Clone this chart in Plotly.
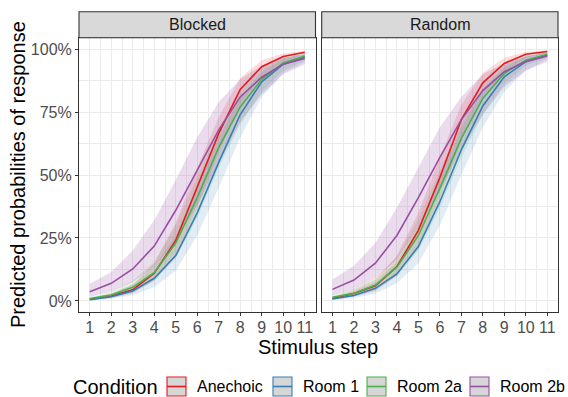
import plotly.graph_objects as go

W, H = 568, 397

steps = list(range(1, 12))
conditions = ["Anechoic", "Room 1", "Room 2a", "Room 2b"]
colors = ["#E41A1C", "#377EB8", "#4DAF4A", "#984EA3"]
fills = ["rgba(228,26,28,0.15)", "rgba(55,126,184,0.15)", "rgba(77,175,74,0.15)", "rgba(152,78,163,0.2)"]
panels = ["Blocked", "Random"]

# Blocked panel: fit, lower, upper (percent)
blocked_fit = {
    "Anechoic": [0.7, 2.0, 4.4, 11.0, 24.0, 45.0, 66.5, 84.0, 93.0, 97.0, 98.7],
    "Room 1":   [0.5, 1.7, 4.0, 9.0, 18.0, 35.0, 55.0, 74.0, 87.0, 94.0, 96.7],
    "Room 2a":  [1.0, 2.4, 5.4, 11.2, 23.0, 41.0, 61.0, 77.0, 88.0, 94.5, 97.2],
    "Room 2b":  [3.7, 7.0, 12.7, 21.8, 36.0, 51.7, 67.9, 81.0, 88.8, 94.0, 96.3],
}
blocked_lo = {
    "Anechoic": [0.4, 1.2, 3.0, 8.0, 18.0, 37.0, 59.0, 78.0, 89.0, 95.0, 97.8],
    "Room 1":   [0.2, 0.9, 2.3, 5.5, 12.0, 26.0, 45.0, 65.0, 81.0, 90.5, 94.8],
    "Room 2a":  [0.5, 1.4, 3.5, 8.0, 17.0, 33.0, 53.0, 70.0, 83.0, 91.5, 95.5],
    "Room 2b":  [1.8, 3.8, 7.5, 13.5, 24.0, 38.0, 55.0, 71.0, 82.0, 90.0, 94.0],
}
blocked_hi = {
    "Anechoic": [1.2, 3.0, 6.5, 15.0, 31.0, 53.0, 73.0, 88.5, 95.5, 98.2, 99.3],
    "Room 1":   [1.0, 3.0, 6.5, 13.5, 26.0, 45.0, 65.0, 81.0, 91.0, 96.2, 98.0],
    "Room 2a":  [1.7, 3.8, 8.0, 15.5, 30.0, 49.0, 68.0, 83.0, 92.0, 96.5, 98.3],
    "Room 2b":  [6.8, 11.5, 20.0, 32.0, 48.0, 65.0, 79.0, 88.0, 93.5, 96.5, 98.0],
}

# Random panel
random_fit = {
    "Anechoic": [1.0, 3.0, 6.0, 13.6, 28.0, 49.0, 72.0, 86.6, 94.3, 97.9, 99.0],
    "Room 1":   [0.8, 2.2, 5.0, 10.7, 21.6, 39.4, 60.0, 77.4, 89.0, 95.0, 97.6],
    "Room 2a":  [1.5, 3.0, 6.3, 13.4, 26.0, 44.7, 64.5, 80.4, 90.3, 95.6, 97.9],
    "Room 2b":  [4.6, 8.3, 15.0, 26.0, 41.0, 57.0, 72.0, 83.5, 91.0, 95.0, 97.2],
}
random_lo = {
    "Anechoic": [0.5, 1.8, 4.0, 10.0, 22.0, 41.0, 64.0, 81.0, 91.0, 96.3, 98.3],
    "Room 1":   [0.4, 1.2, 3.0, 7.0, 15.0, 30.0, 50.0, 69.0, 83.0, 91.5, 95.8],
    "Room 2a":  [0.8, 1.9, 4.3, 9.8, 20.0, 37.0, 57.0, 74.0, 86.0, 93.5, 96.5],
    "Room 2b":  [2.3, 4.5, 9.0, 16.5, 29.0, 44.0, 60.0, 74.0, 85.0, 91.5, 95.0],
}
random_hi = {
    "Anechoic": [1.6, 4.5, 8.5, 18.0, 35.0, 57.0, 78.0, 90.5, 96.5, 98.8, 99.5],
    "Room 1":   [1.5, 3.8, 7.5, 15.5, 29.0, 49.0, 69.0, 84.0, 93.0, 97.0, 98.7],
    "Room 2a":  [2.4, 4.5, 9.0, 17.5, 32.5, 52.0, 71.0, 85.5, 93.5, 97.2, 98.8],
    "Room 2b":  [8.5, 14.0, 23.0, 37.0, 53.0, 69.0, 81.0, 90.0, 94.5, 97.0, 98.5],
}

y_ticks = [0, 25, 50, 75, 100]
y_ticktext = ["0%", "25%", "50%", "75%", "100%"]

FONT = "Liberation Sans, Arial, sans-serif"

def px_x(p):
    return p / W

def px_y(p):
    return (H - p) / H

panel_x = [(79, 315.5), (321.7, 558)]
panel_top, panel_bot = 37.7, 312.3
strip_top = 11.7

fig = go.Figure()

data = [(blocked_fit, blocked_lo, blocked_hi), (random_fit, random_lo, random_hi)]
for pi, (fit, lo, hi) in enumerate(data):
    xa = "x" if pi == 0 else "x2"
    ya = "y" if pi == 0 else "y2"
    for ci, c in enumerate(conditions):
        fig.add_trace(go.Scatter(
            x=steps + steps[::-1], y=hi[c] + lo[c][::-1],
            fill="toself", fillcolor=fills[ci], line=dict(width=0),
            mode="lines", hoverinfo="skip", showlegend=False,
            xaxis=xa, yaxis=ya))
    for ci, c in enumerate(conditions):
        fig.add_trace(go.Scatter(
            x=steps, y=fit[c], mode="lines", name=c,
            line=dict(color=colors[ci], width=1.6),
            showlegend=False, xaxis=xa, yaxis=ya))

axis_common = dict(
    showline=True, linecolor="#333333", linewidth=1.1, mirror=True,
    showgrid=True, gridcolor="#EBEBEB", gridwidth=1.1,
    zeroline=False, ticks="outside", ticklen=3, tickcolor="#333333", tickwidth=1,
    tickfont=dict(family=FONT, size=16, color="#4D4D4D"),
)

for i, (x0, x1) in enumerate(panel_x):
    xkey = "xaxis" if i == 0 else "xaxis2"
    ykey = "yaxis" if i == 0 else "yaxis2"
    fig.layout[xkey] = dict(
        axis_common, domain=[px_x(x0), px_x(x1)], range=[0.5, 11.5],
        tickvals=steps, ticktext=[str(s) for s in steps],
        ticklabelstandoff=-3,
        minor=dict(tick0=0.5, dtick=1, showgrid=True, gridcolor="#EBEBEB", gridwidth=0.6),
        anchor="y" if i == 0 else "y2",
    )
    fig.layout[ykey] = dict(
        axis_common, domain=[px_y(panel_bot), px_y(panel_top)], range=[-4.5, 104.5],
        tickvals=y_ticks, ticktext=y_ticktext,
        showticklabels=(i == 0),
        minor=dict(tick0=12.5, dtick=25, showgrid=True, gridcolor="#EBEBEB", gridwidth=0.6),
        anchor="x" if i == 0 else "x2",
    )
    if i == 1:
        fig.layout[ykey].ticks = ""
    # strip
    fig.add_shape(type="rect", xref="paper", yref="paper",
                  x0=px_x(x0), x1=px_x(x1), y0=px_y(panel_top), y1=px_y(strip_top),
                  fillcolor="#D9D9D9", line=dict(color="#333333", width=1.1), layer="above")
    fig.add_annotation(xref="paper", yref="paper", x=px_x((x0 + x1) / 2),
                       y=px_y((panel_top + strip_top) / 2), text=panels[i], showarrow=False,
                       font=dict(family=FONT, size=16, color="#1A1A1A"),
                       xanchor="center", yanchor="middle")

# axis titles
fig.add_annotation(xref="paper", yref="paper", x=px_x((79 + 558) / 2), y=px_y(347),
                   text="Stimulus step", showarrow=False,
                   font=dict(family=FONT, size=20, color="black"),
                   xanchor="center", yanchor="middle")
fig.add_annotation(xref="paper", yref="paper", x=px_x(18), y=px_y((panel_top + panel_bot) / 2),
                   text="Predicted probabilities of response", showarrow=False, textangle=-90,
                   font=dict(family=FONT, size=20, color="black"),
                   xanchor="center", yanchor="middle")

# legend (built from the condition / colour lists)
leg_y0, leg_y1 = 377, 396
leg_mid = (leg_y0 + leg_y1) / 2
fig.add_annotation(xref="paper", yref="paper", x=px_x(71), y=px_y(leg_mid),
                   text="Condition", showarrow=False,
                   font=dict(family=FONT, size=20, color="black"),
                   xanchor="left", yanchor="middle")
key_x = [167, 273, 367, 470]
for ci, c in enumerate(conditions):
    kx0 = key_x[ci]
    kx1 = kx0 + 19
    fig.add_shape(type="rect", xref="paper", yref="paper",
                  x0=px_x(kx0), x1=px_x(kx1), y0=px_y(leg_y1), y1=px_y(leg_y0),
                  fillcolor="#D6D6D6", line=dict(color=colors[ci], width=1.1))
    fig.add_shape(type="line", xref="paper", yref="paper",
                  x0=px_x(kx0), x1=px_x(kx1), y0=px_y(leg_mid), y1=px_y(leg_mid),
                  line=dict(color=colors[ci], width=1.6))
    fig.add_annotation(xref="paper", yref="paper", x=px_x(kx1 + 9), y=px_y(leg_mid),
                       text=c, showarrow=False,
                       font=dict(family=FONT, size=16, color="black"),
                       xanchor="left", yanchor="middle")

fig.update_layout(
    width=W, height=H, margin=dict(l=0, r=0, t=0, b=0),
    paper_bgcolor="white", plot_bgcolor="white", showlegend=False,
)

fig.write_html("out.html", config={"displayModeBar": False},
               post_script="document.body.style.margin='0';document.body.style.overflow='hidden';")
